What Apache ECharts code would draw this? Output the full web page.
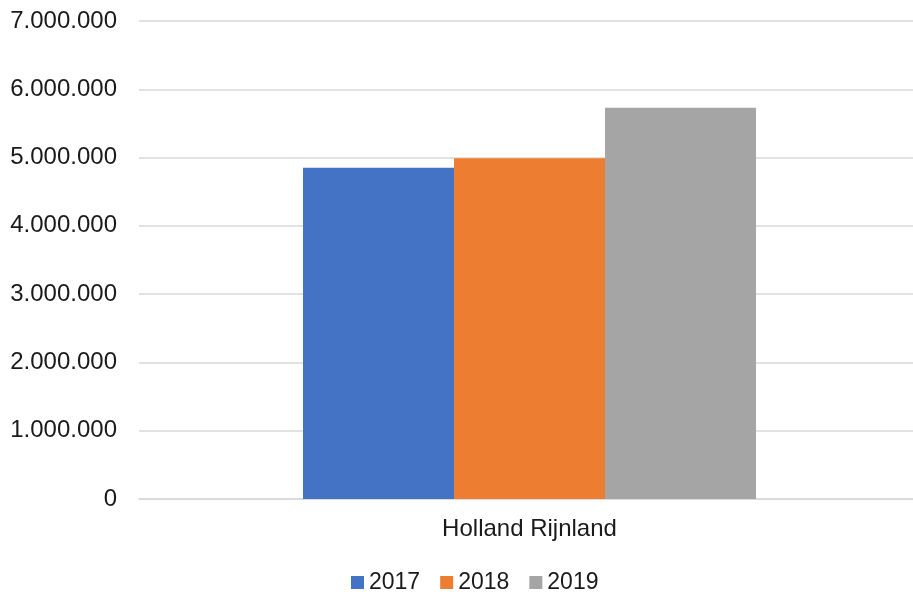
<!DOCTYPE html>
<html><head><meta charset="utf-8">
<script src="https://cdn.jsdelivr.net/npm/echarts@6/dist/echarts.min.js"></script>
<style>html,body{margin:0;padding:0;background:#fff;overflow:hidden}#c{width:920px;height:594px}</style>
</head><body><div id="c"></div>
<script>
const categories = ['Holland Rijnland'];
const seriesNames = ['2017', '2018', '2019'];
const values2017 = [4850000];
const values2018 = [4990000];
const values2019 = [5730000];
const colors = ['#4472C4', '#ED7D31', '#A5A5A5'];
const font = "'Liberation Sans', Arial, sans-serif";
function fmt(v){ return String(Math.round(v)).replace(/\B(?=(\d{3})+(?!\d))/g, '.'); }
const chart = echarts.init(document.getElementById('c'));
const data = [values2017, values2018, values2019];
chart.setOption({
  animation: false,
  grid: { left: 139, right: 0, top: 21, bottom: 95, containLabel: false },
  legend: {
    data: seriesNames, left: 346, top: 566, itemWidth: 13, itemHeight: 13, itemGap: 20,
    icon: 'rect', textStyle: { fontFamily: font, fontSize: 23, color: '#1a1a1a' }
  },
  xAxis: {
    type: 'category', data: categories,
    axisLine: { lineStyle: { color: '#d9d9d9', width: 1.5 } },
    axisTick: { show: false },
    axisLabel: { fontFamily: font, fontSize: 24, color: '#1a1a1a', margin: 18 }
  },
  yAxis: {
    type: 'value', min: 0, max: 7000000, interval: 1000000,
    axisLine: { show: false }, axisTick: { show: false },
    splitLine: { lineStyle: { color: '#d9d9d9', width: 1.5 } },
    axisLabel: { fontFamily: font, fontSize: 24, color: '#1a1a1a', margin: 22, formatter: fmt }
  },
  series: seriesNames.map((n, i) => ({
    name: n, type: 'bar', data: data[i], barGap: '0%', barCategoryGap: '42%',
    itemStyle: { color: colors[i] }
  }))
});
</script></body></html>
